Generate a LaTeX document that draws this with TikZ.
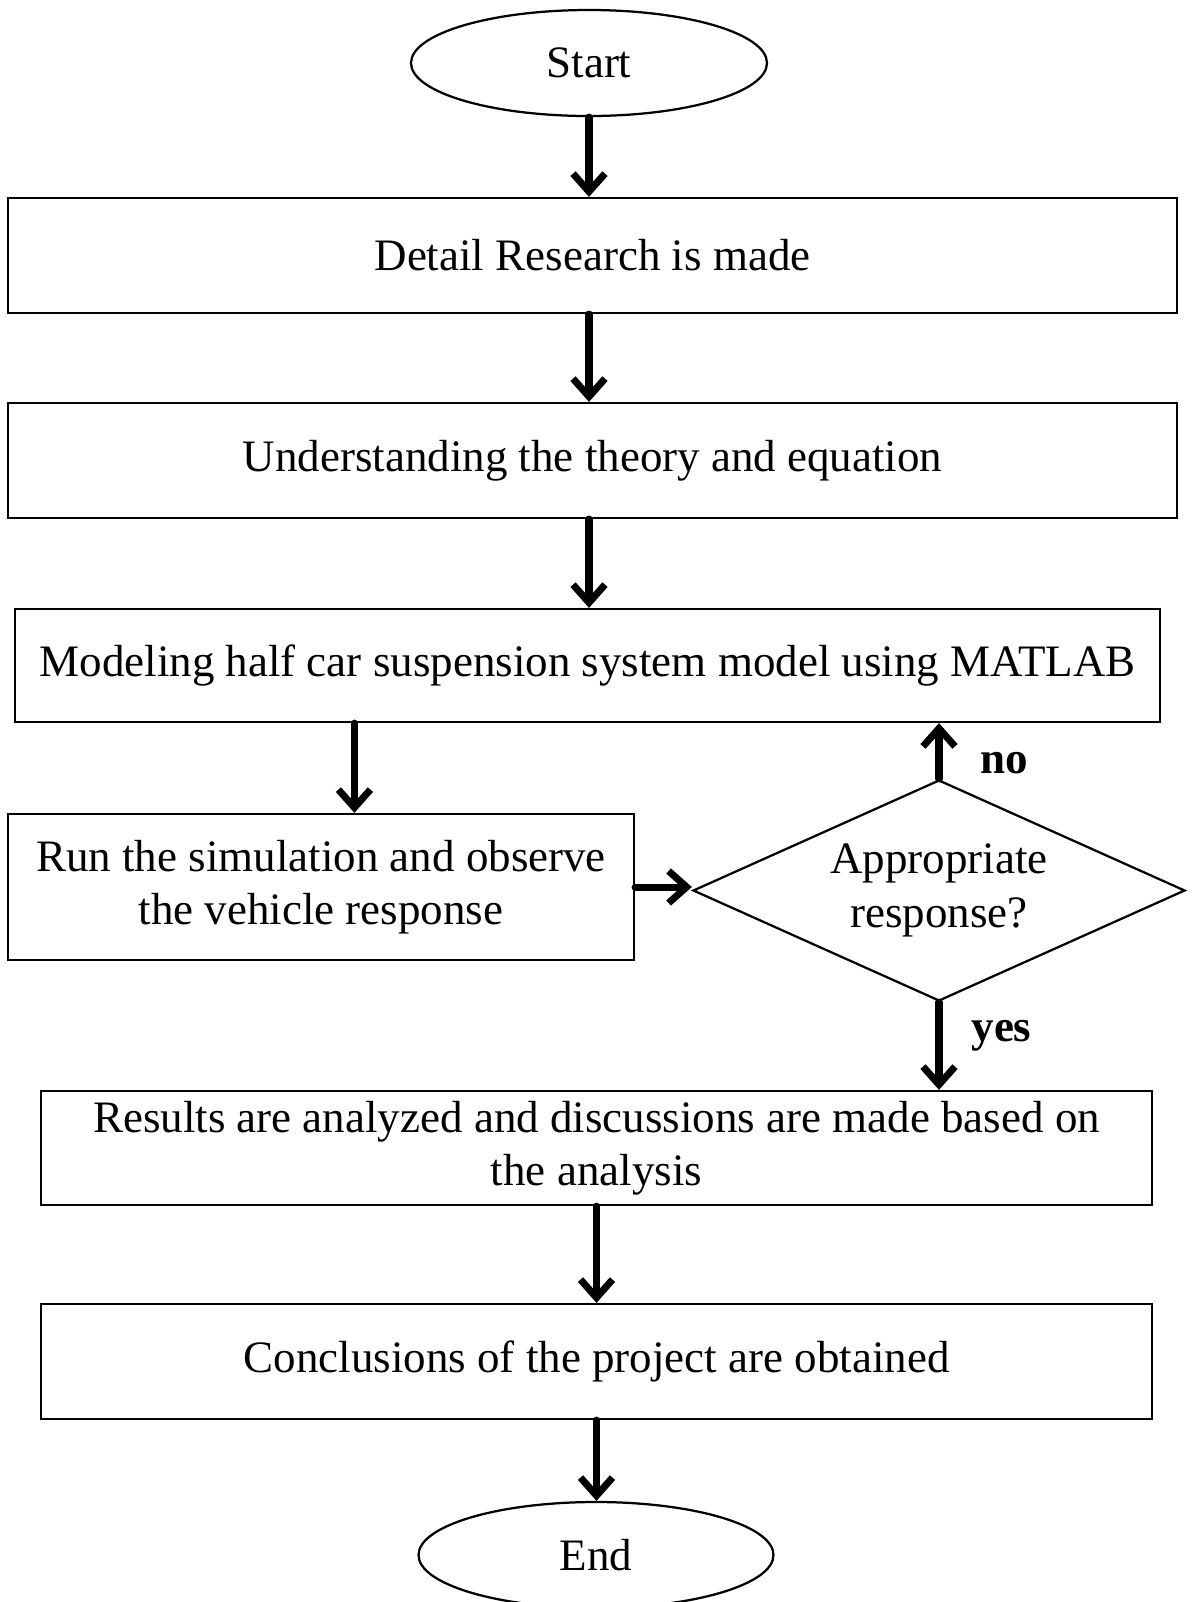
\documentclass[tikz,border=0pt]{standalone}
\usepackage{fontspec}
\setmainfont{Liberation Serif}
\usetikzlibrary{shapes.geometric,arrows.meta}

\begin{document}
\begin{tikzpicture}
		[scale=1,line cap=round,
		%Styles
		every node/.style={font=\fontsize{32}{38}\selectfont},
		process/.style={draw,line width=1.6pt,rectangle,inner sep=0pt,align=center,minimum height=2.875cm},
		terminal/.style={draw,line width=1.6pt,ellipse,inner sep=0pt,minimum width=8.9cm,minimum height=2.65cm},
		decision/.style={draw,line width=1.6pt,diamond,aspect=2.226,inner sep=0pt,align=center,minimum width=12.3cm,minimum height=5.525cm},
		flow/.style={line width=5pt,-{Straight Barb[length=0.45cm,width=0.8cm]}},
		answer/.style={inner sep=0pt,font=\fontsize{32}{38}\selectfont\bfseries}
		]
		
		\useasboundingbox (0,0) rectangle (29.8,-40.05);
		
		%The graphic
		
		\node[terminal] (start) at (14.725,-1.575) {Start};
		\node[process,minimum width=29.225cm] (research) at (14.8125,-6.3875) {Detail Research is made};
		\node[process,minimum width=29.225cm] (theory) at (14.8125,-11.5125) {Understanding the theory and equation};
		\node[process,minimum width=28.625cm,minimum height=2.825cm] (model) at (14.6875,-16.6375) {Modeling half car suspension system model using MATLAB};
		\node[process,minimum width=15.65cm,minimum height=3.65cm] (run) at (8.025,-22.175) {Run the simulation and observe\\the vehicle response};
		\node[decision] (check) at (23.475,-22.2625) {Appropriate\\response?};
		\node[process,minimum width=27.775cm,minimum height=2.85cm] (results) at (14.9125,-28.7) {Results are analyzed and discussions are made based on\\the analysis};
		\node[process,minimum width=27.775cm] (conclude) at (14.9125,-34.0375) {Conclusions of the project are obtained};
		\node[terminal,minimum width=8.875cm] (stop) at (14.9,-38.875) {End};
		
		\coordinate (branch) at (8.86,-19);
		
		\draw[flow] (start.south) -- (start.south |- research.north);
		\draw[flow] (research.south -| start) -- (theory.north -| start);
		\draw[flow] (theory.south -| start) -- (model.north -| start);
		\draw[flow] (model.south -| branch) -- (run.north -| branch);
		\draw[flow] (run.east) -- (run.east -| check.west);
		\draw[flow] (check.north) -- node[answer,pos=0.28,right=0.95cm] {no} (check.north |- model.south);
		\draw[flow] (check.south) -- node[answer,pos=0.38,right=0.725cm] {yes} (check.south |- results.north);
		\draw[flow] (results.south) -- (conclude.north);
		\draw[flow] (conclude.south) -- (conclude.south |- stop.north);
	\end{tikzpicture}
\end{document}
